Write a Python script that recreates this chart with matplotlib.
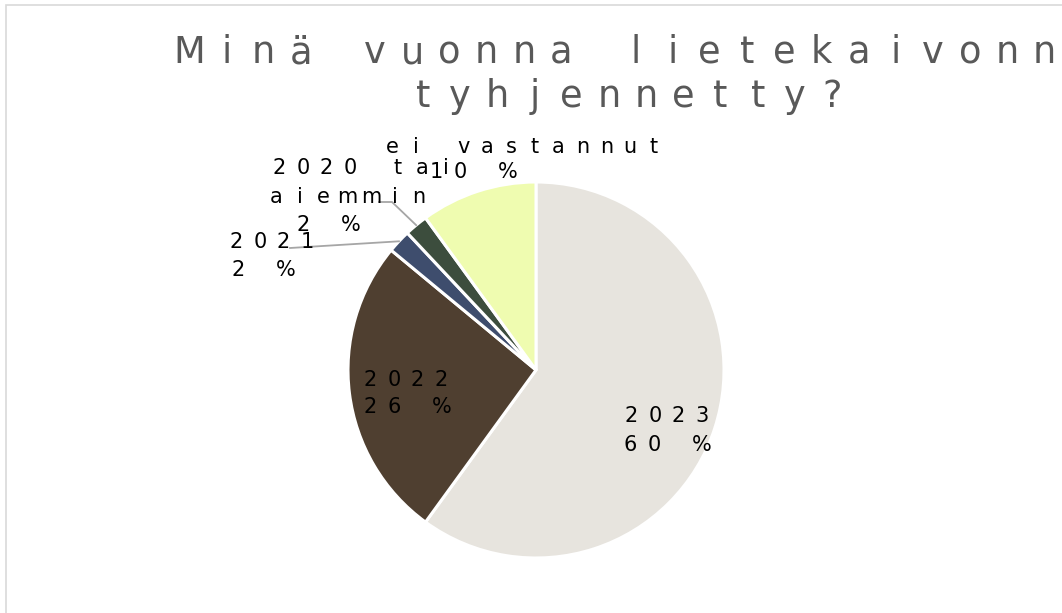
import matplotlib
matplotlib.use("Agg")
import matplotlib.pyplot as plt
from matplotlib.patches import Rectangle
from matplotlib.lines import Line2D
import numpy as np
import logging
logging.getLogger("matplotlib.font_manager").setLevel(logging.ERROR)

# ---- data ----
categories = ["2023", "2022", "2021", "2020 tai\naiemmin", "ei vastannut"]
values = [60, 26, 2, 2, 10]
colors = ["#E7E4DE", "#4F3F30", "#3E4D6D", "#3C4D3D", "#EFFCB0"]
title_lines = ["Minä vuonna lietekaivonn", "tyhjennetty?"]

W, H = 1062, 613
fig = plt.figure(figsize=(W / 100, H / 100), dpi=100)
fig.patch.set_facecolor("white")

def px(x, y):
    return x / W, 1 - y / H

def spaced(x0, y, text, pitch, size, color, **kw):
    """draw text with fixed per-character pitch; x0 = center of first char"""
    for i, ch in enumerate(text):
        if ch == " ":
            continue
        fx, fy = px(x0 + i * pitch, y)
        fig.text(fx, fy, ch, ha="center", va="baseline", fontsize=size,
                 color=color, **kw)

# chart border (light gray, extends beyond right/bottom)
fig.patches.append(Rectangle(px(6, 700), (W + 20) / W, 695 / H,
                             transform=fig.transFigure, fill=False,
                             edgecolor="#D9D9D9", linewidth=1.2, figure=fig))

# pie axes: center (536, 370), radius 188 px
cx, cy, r = 536, 370, 188
ax = fig.add_axes([(cx - r) / W, (H - cy - r) / H, 2 * r / W, 2 * r / H])
wedges, _ = ax.pie(values, colors=colors, startangle=90, counterclock=False,
                   wedgeprops=dict(edgecolor="white", linewidth=2.2))
for w in wedges:
    w.set_clip_on(False)
ax.set_xlim(-1, 1)
ax.set_ylim(-1, 1)
ax.set_aspect("equal")
ax.axis("off")

# title
tcol = "#595959"
tfam = ["Liberation Sans Narrow", "DejaVu Sans"]
spaced(189, 63, title_lines[0], 37.2, 26.5, tcol, family=tfam)
spaced(423, 107, title_lines[1], 37.2, 26.5, tcol, family=tfam)

# data labels
lab = dict(pitch=23.8, size=15, color="black")
def label(lines, positions):
    for t, (x, y) in zip(lines, positions):
        spaced(x, y, t, lab["pitch"], lab["size"], lab["color"])

pct = [f"{v} %" for v in values]
label([categories[0], pct[0]], [(631, 422), (630, 451)])
label([categories[1], pct[1]], [(370, 386), (370, 413)])
label([categories[2], pct[2]], [(236, 248), (238, 276)])
l1, l2 = categories[3].split("\n")
label([l1, l2, pct[3]], [(279, 174), (276, 203), (303, 231)])
label([categories[4]], [(392, 153)])
label([pct[4]], [(436, 178)])

# leader lines to wedge edges (computed from wedge angles)
def edge_point(w):
    th = np.deg2rad((w.theta1 + w.theta2) / 2)
    disp = ax.transData.transform((np.cos(th), np.sin(th)))
    return fig.transFigure.inverted().transform(disp)

lc = "#A6A6A6"
e2 = edge_point(wedges[2])
p0 = px(290, 248)
fig.add_artist(Line2D([p0[0], e2[0]], [p0[1], e2[1]], color=lc, lw=1.3,
                      transform=fig.transFigure))
e3 = edge_point(wedges[3])
q0 = px(379, 202)
q1 = px(392, 202)
fig.add_artist(Line2D([q0[0], q1[0], e3[0]], [q0[1], q1[1], e3[1]], color=lc,
                      lw=1.3, transform=fig.transFigure))

fig.savefig("out.png", dpi=100)
